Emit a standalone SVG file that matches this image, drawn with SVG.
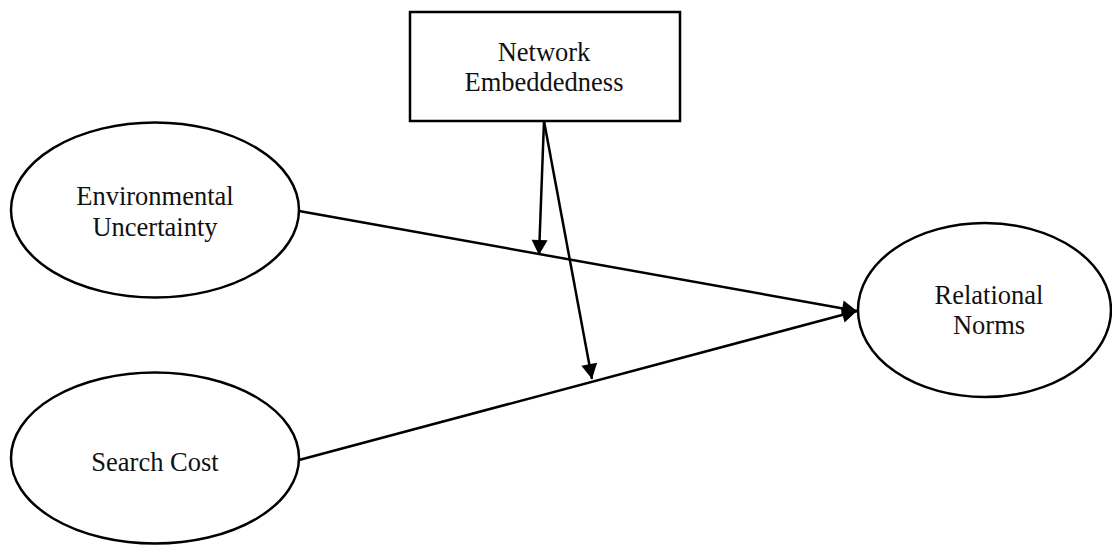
<svg xmlns="http://www.w3.org/2000/svg" width="1112" height="545" viewBox="0 0 1112 545">
<style>
.shape{fill:#fff;stroke:#000;stroke-width:2.5}
.lbl{font-family:"Liberation Serif","Times New Roman",serif;font-size:26.5px;fill:#111;text-anchor:middle}
.edge{stroke:#000;stroke-width:2.5;fill:none;marker-end:url(#ah)}
</style>
<defs>
<marker id="ah" markerUnits="userSpaceOnUse" markerWidth="17" markerHeight="17" refX="15" refY="8" orient="auto" overflow="visible">
<path d="M0,0 L15,8 L0,16 z" fill="#000"/>
</marker>
</defs>
<rect width="1112" height="545" fill="#fff"/>
<g id="network-embeddedness">
<rect class="shape" x="410" y="12" width="270" height="109"/>
<text class="lbl" x="544" y="61">Network</text>
<text class="lbl" x="544" y="91">Embeddedness</text>
</g>
<g id="environmental-uncertainty">
<ellipse class="shape" cx="155" cy="210" rx="144" ry="87.5"/>
<text class="lbl" x="155" y="205">Environmental</text>
<text class="lbl" x="155" y="236">Uncertainty</text>
</g>
<g id="search-cost">
<ellipse class="shape" cx="155" cy="458" rx="144" ry="85.5"/>
<text class="lbl" x="155" y="471">Search Cost</text>
</g>
<g id="relational-norms">
<ellipse class="shape" cx="984.5" cy="310" rx="126.5" ry="87"/>
<text class="lbl" x="989" y="304">Relational</text>
<text class="lbl" x="989" y="334">Norms</text>
</g>
<g id="connectors">
<line class="edge" x1="299" y1="211" x2="857" y2="311"/>
<line class="edge" x1="299" y1="460" x2="857" y2="311"/>
<line class="edge" x1="544" y1="121" x2="539" y2="255"/>
<line class="edge" x1="544" y1="121" x2="592" y2="379"/>
</g>
</svg>
